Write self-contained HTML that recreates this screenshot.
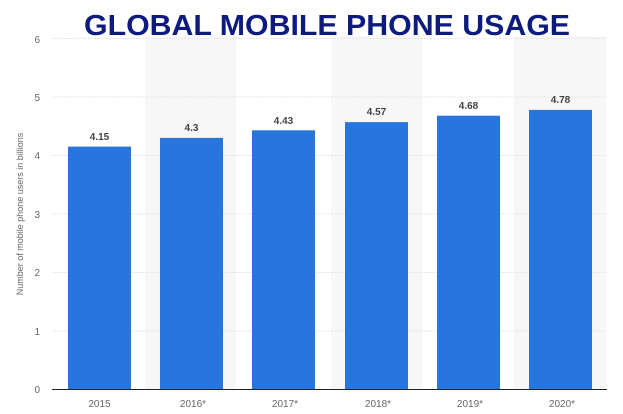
<!DOCTYPE html>
<html><head><style>body{margin:0;background:#fff}svg{display:block}</style></head><body>
<svg width="623" height="414" xmlns="http://www.w3.org/2000/svg" font-family="Liberation Sans, sans-serif">
<rect x="145" y="36" width="91" height="353" fill="#f7f7f7"/>
<rect x="331" y="36" width="91" height="353" fill="#f7f7f7"/>
<rect x="514" y="36" width="92" height="353" fill="#f7f7f7"/>
<g stroke="#e6e6e6" stroke-width="1" stroke-dasharray="2,1">
<line x1="52" x2="607" y1="38.5" y2="38.5"/><line x1="52" x2="607" y1="97" y2="97"/><line x1="52" x2="607" y1="155.5" y2="155.5"/><line x1="52" x2="607" y1="214" y2="214"/><line x1="52" x2="607" y1="272.5" y2="272.5"/><line x1="52" x2="607" y1="331" y2="331"/>
</g>
<g fill="#2876dd">
<rect x="68" y="146.6" width="63" height="242.4"/>
<rect x="160" y="137.9" width="63" height="251.1"/>
<rect x="252" y="130.3" width="63" height="258.7"/>
<rect x="345" y="122.1" width="63" height="266.9"/>
<rect x="437" y="115.7" width="63" height="273.3"/>
<rect x="529" y="109.9" width="63" height="279.1"/>
</g>
<line x1="52" x2="607" y1="389.5" y2="389.5" stroke="#222" stroke-width="1"/>
<g font-size="10" font-weight="bold" fill="#444" text-anchor="middle">
<text x="99.5" y="140">4.15</text><text x="191.5" y="131">4.3</text><text x="283.5" y="124">4.43</text><text x="376.5" y="115">4.57</text><text x="468.5" y="109">4.68</text><text x="560.5" y="103">4.78</text>
</g>
<g font-size="10" fill="#666" text-anchor="end">
<text x="40" y="43">6</text><text x="40" y="101">5</text><text x="40" y="159">4</text><text x="40" y="218">3</text><text x="40" y="276">2</text><text x="40" y="335">1</text><text x="40" y="393">0</text>
</g>
<g font-size="10" fill="#666" text-anchor="middle">
<text x="99.5" y="407">2015</text><text x="193" y="407">2016*</text><text x="285" y="407">2017*</text><text x="378" y="407">2018*</text><text x="470" y="407">2019*</text><text x="562" y="407">2020*</text>
</g>
<text transform="translate(23,214) rotate(-90)" font-size="9" fill="#666" text-anchor="middle">Number of mobile phone users in billions</text>
<text x="327" y="35" font-size="29" font-weight="bold" fill="#0d1a7e" text-anchor="middle" textLength="486" lengthAdjust="spacingAndGlyphs">GLOBAL MOBILE PHONE USAGE</text>
</svg>
</body></html>
